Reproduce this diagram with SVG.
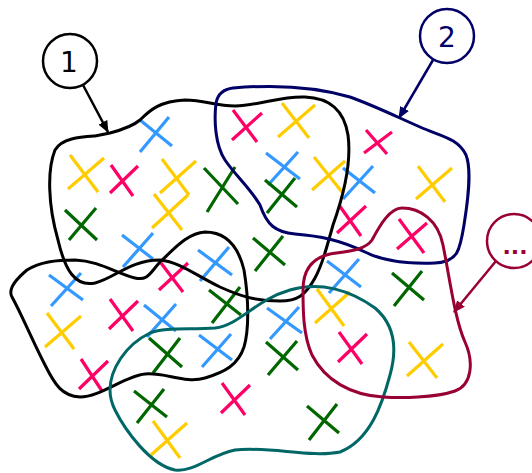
<svg xmlns="http://www.w3.org/2000/svg" width="532" height="473" viewBox="0 0 532 473">
<style>
.x{fill:none;stroke-width:3.2;stroke-linecap:butt}
.b{stroke:#3399FF}.p{stroke:#FF0066}.y{stroke:#FFCC00}.g{stroke:#006600}
.blob{fill:none;stroke-width:3;stroke-linejoin:round}
.lbl{fill:#fff;stroke-width:2.5}
.t{font-family:"DejaVu Sans","Liberation Sans",sans-serif;font-size:28px;text-anchor:middle}
.dots{font-family:"DejaVu Sans","Liberation Sans",sans-serif;font-size:22px;font-weight:bold;text-anchor:middle}
.conn{fill:none;stroke-width:2.5}
</style>
<defs>
<marker id="ak" markerUnits="userSpaceOnUse" markerWidth="12" markerHeight="10" viewBox="0 0 12 10" refX="11" refY="5" orient="auto"><path d="M0,0 L12,5 L0,10 z" fill="#000"/></marker>
<marker id="an" markerUnits="userSpaceOnUse" markerWidth="12" markerHeight="10" viewBox="0 0 12 10" refX="11" refY="5" orient="auto"><path d="M0,0 L12,5 L0,10 z" fill="#000066"/></marker>
<marker id="ac" markerUnits="userSpaceOnUse" markerWidth="12" markerHeight="10" viewBox="0 0 12 10" refX="11" refY="5" orient="auto"><path d="M0,0 L12,5 L0,10 z" fill="#990033"/></marker>
</defs>
<rect width="532" height="473" fill="#fff"/>
<g id="crosses">
<path class="x b" d="M140,152L169,117M140,120L172,146"/>
<path class="x b" d="M266,153L300,179M268,185L298,152"/>
<path class="x b" d="M343,199L373,166M343,168L375,193"/>
<path class="x b" d="M122,235L153,259M123,267L153,233"/>
<path class="x b" d="M49,275L83,300M51,306L81,273"/>
<path class="x b" d="M198,250L232,275M200,281L229,247"/>
<path class="x b" d="M144,305L176,331M147,337L176,304"/>
<path class="x b" d="M199,335L232,360M202,367L231,334"/>
<path class="x b" d="M267,308L302,333M270,339L299,307"/>
<path class="x b" d="M327,261L361,287M329,293L359,259"/>
<path class="x p" d="M110,193L138,166M111,165L133,196"/>
<path class="x p" d="M233,110L257,142M232,140L262,113"/>
<path class="x p" d="M364,153L392,132M366,130L387,154"/>
<path class="x p" d="M337,233L366,206M339,205L361,236"/>
<path class="x p" d="M399,219L424,253M397,249L427,223"/>
<path class="x p" d="M159,290L188,263M161,263L183,292"/>
<path class="x p" d="M109,329L138,301M110,299L133,331"/>
<path class="x p" d="M79,389L108,361M81,359L102,391"/>
<path class="x p" d="M221,413L250,385M222,383L245,415"/>
<path class="x p" d="M338,362L367,334M339,332L362,364"/>
<path class="x y" d="M68,189L104,158M70,155L98,192"/>
<path class="x y" d="M160,193L196,161M162,159L189,195"/>
<path class="x y" d="M152,228L188,195M154,194L182,230"/>
<path class="x y" d="M278,137L315,105M282,103L309,138"/>
<path class="x y" d="M312,190L345,161M314,157L342,192"/>
<path class="x y" d="M416,199L452,168M418,166L445,202"/>
<path class="x y" d="M45,347L81,316M47,313L74,349"/>
<path class="x y" d="M315,323L350,292M317,289L344,326"/>
<path class="x y" d="M407,376L443,344M409,342L437,378"/>
<path class="x y" d="M151,455L187,423M153,421L180,458"/>
<path class="x g" d="M207,212L235,167M204,168L238,204"/>
<path class="x g" d="M65,210L97,240M69,240L96,208"/>
<path class="x g" d="M265,180L297,207M267,213L295,178"/>
<path class="x g" d="M253,238L285,265M255,271L283,236"/>
<path class="x g" d="M209,290L241,315M212,323L240,287"/>
<path class="x g" d="M149,338L182,367M153,373L180,338"/>
<path class="x g" d="M266,342L298,370M268,375L297,341"/>
<path class="x g" d="M392,273L424,300M394,306L422,271"/>
<path class="x g" d="M134,391L167,417M137,423L164,389"/>
<path class="x g" d="M307,406L339,433M309,440L337,404"/>
</g>
<g id="set1">
<path class="blob" stroke="#000" d="M110,133C125,129 133,126 140,120C150,110 160,101 185,100C205,100 215,106 235,106C262,105 280,96 305,97C330,98 344,110 348,135C352,165 342,200 333,225C326,250 322,265 315,278C305,296 297,301 280,301C255,301 240,296 220,287C195,275 180,262 160,260C130,260 115,278 95,283C75,287 65,270 58,240C48,205 47,170 55,150C62,138 80,137 95,136C100,135 105,134 110,133Z"/>
</g>
<g id="set1b">
<path class="blob" stroke="#000" d="M12,297C8,290 15,280 27,270C40,262 55,260 75,260C100,261 115,273 135,278C148,281 150,273 160,262C175,248 188,233 205,232C225,232 238,245 244,270C249,300 249,330 244,347C238,365 225,372 205,378C185,384 165,372 145,374C125,376 100,397 80,397C62,396 55,385 45,365C32,340 22,315 12,297Z"/>
</g>
<g id="set2">
<path class="blob" stroke="#000066" d="M233,88C280,84 320,88 350,97C375,106 395,116 420,127C440,136 458,138 466,155C472,170 468,200 464,225C460,250 458,262 435,263C410,264 385,262 365,252C340,240 320,236 295,234C275,232 267,225 260,205C250,188 235,175 225,160C215,145 214,120 216,103C218,93 224,89 233,88Z"/>
</g>
<g id="set3">
<path class="blob" stroke="#006666" d="M110,390C110,370 125,345 150,333C165,327 190,330 215,328C240,325 255,300 290,290C320,281 350,290 375,308C395,325 397,350 390,375C382,405 370,440 340,452C310,458 270,446 235,450C210,455 195,472 175,470C150,465 125,430 115,410C110,400 110,395 110,390Z"/>
</g>
<g id="set4">
<path class="blob" stroke="#990033" d="M303,290C303,270 312,258 330,254C350,251 365,250 372,240C380,225 390,208 402,208C420,208 438,220 443,245C450,280 455,320 465,342C474,362 472,385 455,391C435,398 400,398 383,397C350,395 325,380 312,355C303,335 303,310 303,290Z"/>
</g>
<g id="connectors">
<line class="conn" stroke="#000" x1="83" y1="85" x2="108" y2="132" marker-end="url(#ak)"/>
<line class="conn" stroke="#000066" x1="433" y1="60" x2="399" y2="118" marker-end="url(#an)"/>
<line class="conn" stroke="#990033" x1="496" y1="261" x2="454" y2="312" marker-end="url(#ac)"/>
</g>
<g id="label1">
<circle class="lbl" stroke="#000" cx="70" cy="61" r="27"/>
<text class="t" x="69" y="72" fill="#000">1</text>
</g>
<g id="label2">
<circle class="lbl" stroke="#000066" cx="447" cy="36" r="27"/>
<text class="t" x="447" y="47" fill="#000066">2</text>
</g>
<g id="label3">
<circle class="lbl" stroke="#990033" cx="514" cy="241" r="27"/>
<text class="dots" x="515" y="254" fill="#990033">...</text>
</g>
</svg>
